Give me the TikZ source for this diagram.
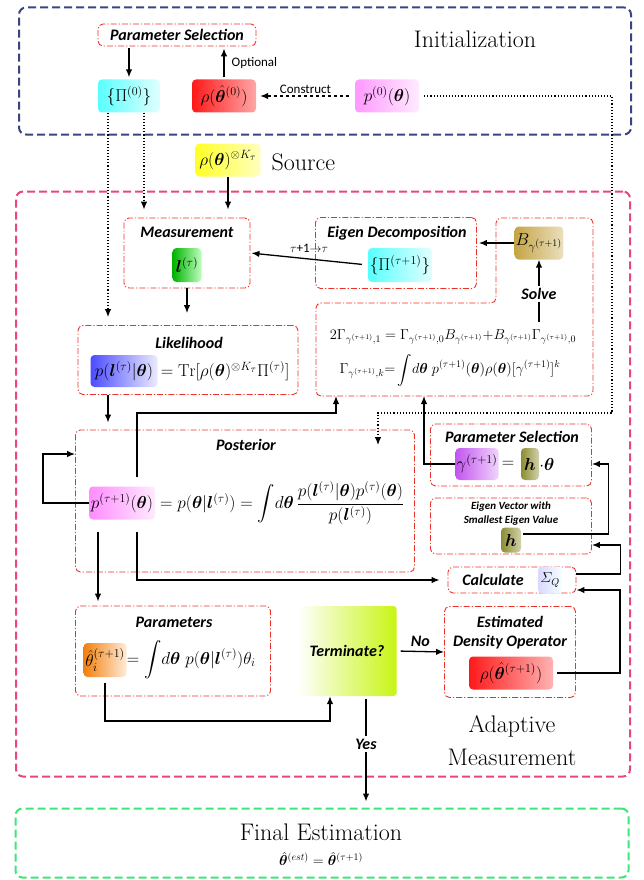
\documentclass[tikz,border=0pt]{standalone}
\usepackage{fontspec}
\usepackage{amsmath,bm}
\newfontfamily\headfont{Carlito}
\usetikzlibrary{arrows.meta}
\definecolor{initblue}{RGB}{58,68,128}
\definecolor{adaptpink}{RGB}{234,70,120}
\definecolor{finalgreen}{RGB}{60,230,120}
\definecolor{boxred}{RGB}{235,50,40}
\definecolor{bgold}{RGB}{196,165,70}
\definecolor{hgreen}{RGB}{140,140,50}
\definecolor{gamviolet}{RGB}{195,85,240}
\definecolor{termlime}{RGB}{200,245,20}

\begin{document}
\begin{tikzpicture}[x=1pt,y=-1pt,
stage/.style={draw, dash pattern=on 8pt off 4pt, line width=2pt, rounded corners=7pt},
block/.style={draw=boxred, line width=0.9pt, dash pattern=on 6pt off 2pt on 1.2pt off 2pt, rounded corners=5pt},
title/.style={font=\headfont\bfseries\itshape\fontsize{16}{19}\selectfont, inner sep=0pt},
note/.style={font=\headfont\fontsize{13}{15}\selectfont, inner sep=2pt},
big/.style={font=\fontsize{24}{33}\selectfont},
var/.style={rounded corners=4pt, inner sep=1pt, minimum height=33, font=\fontsize{17.28}{20}\selectfont},
eq/.style={inner sep=0pt, font=\fontsize{17.28}{20}\selectfont},
flow/.style={line width=1.3pt, -{Latex[length=8pt,width=6.5pt]}},
dots/.style={line width=1.1pt, dotted, -{Latex[length=8pt,width=6.5pt]}}]
\useasboundingbox (0,0) rectangle (644,880);

% initialization
\node[stage, draw=initblue, minimum width=612, minimum height=127] (init) at (325,71) {};
\node[big] (initlbl) at (475,39) {Initialization};
\node[block, title, minimum width=158, minimum height=22] (psel0) at (177,35) {Parameter Selection};
\node[var, left color=cyan!65, right color=cyan!12, minimum width=62] (pi0) at (129,96) {$\{\Pi^{(0)}\}$};
\node[var, left color=red!90, right color=red!35, minimum width=64] (rho0) at (224,96) {$\rho(\hat{\bm\theta}^{(0)})$};
\node[var, left color=magenta!40, right color=magenta!8, minimum width=64] (p0) at (387,96) {$p^{(0)}(\bm\theta)$};
\node[var, left color=yellow!85, right color=yellow!25, minimum width=65] (src) at (228,160) {$\rho(\bm\theta)^{\otimes K_\tau}$};
\node[big, anchor=west] (srclbl) at (268,162) {Source};

% adaptive measurement
\node[stage, draw=adaptpink, minimum width=614, minimum height=585] (adapt) at (323,484) {};
\node[big, align=center] (adaptlbl) at (512,741) {Adaptive\\Measurement};

\node[block, minimum width=126, minimum height=70] (meas) at (187,253) {};
\node[title] at (187,232) {Measurement};
\node[var, left color=green!70!black, right color=green!25, minimum width=29, minimum height=34] (lt) at (187,265) {$\bm l^{(\tau)}$};

\node[block, minimum width=161, minimum height=71] (eig) at (396,253) {};
\node[title] at (397,233) {Eigen Decomposition};
\node[var, left color=cyan!65, right color=cyan!12, minimum width=64, minimum height=34] (pi1) at (400,265) {$\{\Pi^{(\tau+1)}\}$};

\node[var, left color=bgold, right color=bgold!35, minimum width=39] (bg) at (539,243) {$B_{\gamma^{(\tau+1)}}$};
\draw[block] (496,218) -- (593,218) -- (593,396) -- (316,396) -- (316,303) -- (496,303) -- cycle;
\node[eq, font=\fontsize{14.4}{17}\selectfont] (eq1) at (453,337) {$2\Gamma_{\gamma^{(\tau+1)},1} = \Gamma_{\gamma^{(\tau+1)},0}B_{\gamma^{(\tau+1)}}{+}B_{\gamma^{(\tau+1)}}\Gamma_{\gamma^{(\tau+1)},0}$};
\node[eq, font=\fontsize{14.4}{17}\selectfont] (eq2) at (450,370) {$\Gamma_{\gamma^{(\tau+1)},k}{=}\displaystyle\int\! d\bm\theta\; p^{(\tau+1)}(\bm\theta)\rho(\bm\theta)[\gamma^{(\tau+1)}]^k$};
\coordinate (solvefoot) at (539,322);

\node[block, minimum width=220, minimum height=69] (lik) at (188,360) {};
\node[title] at (189,343) {Likelihood};
\node[var, left color=blue!70, right color=blue!8, minimum width=67, minimum height=32] (plt) at (124,371) {$p(\bm l^{(\tau)}|\bm\theta)$};
\node[eq, anchor=west] (likeq) at (plt.east) {$\,=\mathrm{Tr}[\rho(\bm\theta)^{\otimes K_\tau}\Pi^{(\tau)}]$};

\node[block, minimum width=339, minimum height=142] (post) at (245,501) {};
\node[title] at (246,445) {Posterior};
\node[var, left color=magenta!45, right color=magenta!8, minimum width=66] (pnext) at (122,503) {$p^{(\tau+1)}(\bm\theta)$};
\node[eq, anchor=west] (posteq) at (pnext.east) {$\;= p(\bm\theta|\bm l^{(\tau)}) = \displaystyle\int\! d\bm\theta\,\frac{p(\bm l^{(\tau)}|\bm\theta)p^{(\tau)}(\bm\theta)}{p(\bm l^{(\tau)})}$};

\node[block, minimum width=161, minimum height=62] (psel) at (511,455) {};
\node[title] at (512,437) {Parameter Selection};
\node[var, left color=gamviolet, right color=gamviolet!25, minimum width=43, minimum height=32] (gam) at (477,464) {$\gamma^{(\tau+1)}$};
\node[eq, anchor=west] (geq) at (gam.east) {$\,=$};
\node[var, left color=hgreen, right color=hgreen!40, minimum width=18, minimum height=32] (hsel) at (530,464) {$\bm h$};
\node[eq, anchor=west] (gdot) at (hsel.east) {$\cdot\bm\theta$};

\node[block, minimum width=161, minimum height=56] (evec) at (511,526) {};
\node[title, font=\headfont\bfseries\itshape\fontsize{11}{14}\selectfont, align=center] at (511,514) {Eigen Vector with\\Smallest Eigen Value};
\node[var, left color=hgreen, right color=hgreen!40, minimum width=20, minimum height=25] (hvec) at (511,540) {$\bm h$};

\node[block, minimum width=128, minimum height=26] (calc) at (512,580) {};
\node[title] at (493,580) {Calculate};
\node[var, left color=blue!15, right color=cyan!4, minimum width=24, minimum height=27, font=\fontsize{14.4}{17}\selectfont] (sigq) at (550,580) {$\varSigma_Q$};

\node[block, minimum width=195, minimum height=90] (par) at (173,651) {};
\node[title] at (174,622) {Parameters};
\node[var, left color=orange!80!brown, right color=orange!15, minimum width=43, minimum height=34] (thi) at (105,660) {$\hat\theta_i^{(\tau+1)}$};
\node[eq, anchor=west] (pareq) at (thi.east) {$=\displaystyle\int\! d\bm\theta\; p(\bm\theta|\bm l^{(\tau)})\theta_i$};

\node[title, left color=white, right color=termlime, rounded corners=3pt, minimum width=99, minimum height=90] (term) at (347,651) {Terminate?};

\node[block, minimum width=131, minimum height=91] (est) at (510,652) {};
\node[title, align=center] at (510,633) {Estimated\\Density Operator};
\node[var, left color=red!90, right color=red!30, minimum width=84] (rhon) at (511,673) {$\rho(\hat{\bm\theta}^{(\tau+1)})$};

% final estimation
\node[stage, draw=finalgreen, minimum width=613, minimum height=69] (fin) at (322,843) {};
\node[big] (finlbl) at (321,832) {Final Estimation};
\node[eq, font=\fontsize{14.4}{17}\selectfont] (fineq) at (321,859) {$\hat{\bm\theta}^{(est)}=\hat{\bm\theta}^{(\tau+1)}$};

% connectors
\draw[flow, shorten <=2pt, shorten >=2pt] (psel0.south -| pi0) -- (pi0.north);
\draw[flow, shorten <=2pt, shorten >=2pt] (rho0.north) -- (rho0 |- psel0.south) node[midway, right=5pt, note] {Optional};
\draw[flow, dashed, shorten <=6pt, shorten >=4pt] (p0.west) -- (rho0.east) node[midway, above, note] {Construct};
\draw[dots, shorten >=8pt] ([xshift=-21pt]pi0.south) -- ([xshift=-21pt]pi0.south |- lik.north);
\draw[dots, shorten >=8pt] ([xshift=15pt]pi0.south) -- ([xshift=15pt]pi0.south |- meas.north);
\draw[flow, shorten >=8pt] (src.south) -- (src.south |- meas.north);
\draw[dots, shorten <=5pt] (p0.east) -- (612,96) -- (612,413) -- (378,413) -- (378,445);
\draw[flow, shorten <=6pt, shorten >=1pt] (pi1.west) -- (meas.east) node[midway, above=4pt, note] {$\tau$+1$\rightarrow$$\tau$};
\draw[flow, shorten >=2pt] (bg.west) -- (bg.west -| eig.east);
\draw[flow] (solvefoot) -- (bg.south) node[pos=0.45, fill=white, title, inner sep=2pt] {Solve};
\draw[flow, shorten >=12pt] (lt.south |- meas.south) -- (lt.south |- lik.north);
\draw[flow, shorten >=7pt] ([xshift=-16pt]plt.south |- lik.south) -- ([xshift=-16pt]plt.south |- post.north);
\draw[flow] (pnext.west) -- (43,503) -- (43,454) -- (post.west |- 43,454);
\draw[flow] ([xshift=15pt,yshift=9pt]pnext.north) -- (137,413) -- (336,413) -- (336,396);
\draw[flow] (gam.west) -- (424,464) -- (424,396);
\draw[flow, shorten >=4pt] ([xshift=-24pt,yshift=-12pt]pnext.south) -- ([xshift=-24pt]pnext.south |- par.north);
\draw[flow, shorten >=8pt] ([xshift=15pt,yshift=-12pt]pnext.south) |- (calc.west);
\draw[flow, shorten <=2pt] ([yshift=6pt]hvec.east) -- ++(87,0) |- (psel.east |- gam);
\draw[flow] ([yshift=6pt]calc.east) -- ++(44,0) |- ([yshift=-19pt]evec.east);
\draw[flow, shorten <=4pt] (rhon.east) -- (620,673) |- ([yshift=-10pt]calc.east);
\draw[flow] ([yshift=-6pt]thi.south) -- (thi.south |- 0,721) -| ([xshift=-17pt]term.south);
\draw[flow, shorten <=4pt] (term.east) -- (est.west) node[midway, above=4pt, title] {No};
\draw[flow, shorten <=3pt, shorten >=6pt] ([xshift=19pt]term.south) -- ([xshift=19pt]term.south |- fin.north) node[pos=0.43, fill=white, title, inner sep=3pt] {Yes};
\end{tikzpicture}
\end{document}
